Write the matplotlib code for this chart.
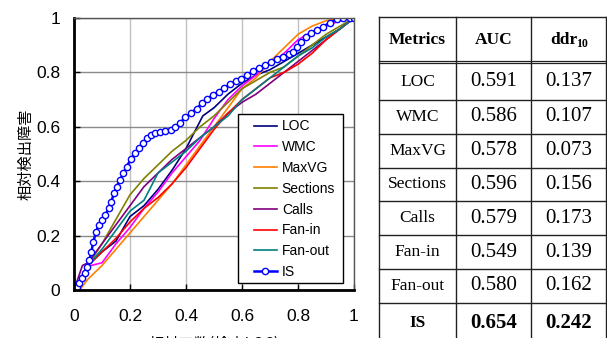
import matplotlib
matplotlib.use("Agg")
import matplotlib.pyplot as plt
from matplotlib.patches import Rectangle

# ---------------- data ----------------
loc_x = [0, 0.05, 0.1, 0.15, 0.2, 0.25, 0.3, 0.35, 0.4, 0.43, 0.46, 0.5, 0.55, 0.6, 0.65, 0.7, 0.75, 0.8, 0.85, 0.9, 0.95, 1]
loc_y = [0, 0.09, 0.14, 0.18, 0.27, 0.31, 0.37, 0.44, 0.52, 0.58, 0.64, 0.67, 0.72, 0.76, 0.79, 0.81, 0.84, 0.87, 0.9, 0.93, 0.96, 1]

wmc_x = [0, 0.03, 0.06, 0.1, 0.15, 0.2, 0.25, 0.3, 0.35, 0.4, 0.45, 0.5, 0.55, 0.6, 0.65, 0.7, 0.75, 0.8, 0.85, 0.9, 0.95, 1]
wmc_y = [0, 0.05, 0.09, 0.1, 0.17, 0.23, 0.3, 0.36, 0.43, 0.49, 0.55, 0.63, 0.7, 0.75, 0.79, 0.83, 0.87, 0.92, 0.95, 0.97, 0.99, 1]

maxvg_x = [0.02, 0.05, 0.1, 0.15, 0.2, 0.25, 0.3, 0.35, 0.4, 0.45, 0.5, 0.55, 0.6, 0.65, 0.7, 0.75, 0.8, 0.85, 0.9, 0.95, 1]
maxvg_y = [0, 0.04, 0.09, 0.15, 0.21, 0.27, 0.33, 0.39, 0.46, 0.53, 0.6, 0.67, 0.74, 0.78, 0.84, 0.89, 0.94, 0.97, 0.99, 1.0, 1]

sect_x = [0, 0.05, 0.1, 0.15, 0.2, 0.25, 0.3, 0.35, 0.4, 0.45, 0.5, 0.55, 0.6, 0.65, 0.7, 0.75, 0.8, 0.85, 0.9, 0.95, 1]
sect_y = [0, 0.09, 0.17, 0.26, 0.35, 0.41, 0.46, 0.51, 0.55, 0.6, 0.64, 0.69, 0.74, 0.77, 0.8, 0.82, 0.86, 0.9, 0.94, 0.97, 1]

calls_x = [0, 0.03, 0.05, 0.1, 0.15, 0.2, 0.25, 0.3, 0.35, 0.4, 0.45, 0.5, 0.55, 0.6, 0.65, 0.7, 0.75, 0.8, 0.85, 0.9, 0.95, 1]
calls_y = [0, 0.09, 0.1, 0.17, 0.24, 0.31, 0.38, 0.43, 0.48, 0.52, 0.56, 0.6, 0.65, 0.69, 0.72, 0.76, 0.8, 0.84, 0.88, 0.92, 0.96, 1]

fanin_x = [0, 0.05, 0.1, 0.15, 0.2, 0.25, 0.3, 0.35, 0.4, 0.45, 0.5, 0.55, 0.6, 0.65, 0.7, 0.75, 0.8, 0.85, 0.9, 0.95, 1]
fanin_y = [0, 0.09, 0.14, 0.19, 0.25, 0.3, 0.34, 0.39, 0.45, 0.52, 0.59, 0.65, 0.7, 0.74, 0.78, 0.8, 0.83, 0.87, 0.92, 0.96, 1]

fanout_x = [0, 0.05, 0.1, 0.15, 0.2, 0.25, 0.3, 0.35, 0.4, 0.45, 0.5, 0.55, 0.6, 0.65, 0.7, 0.75, 0.8, 0.85, 0.9, 0.95, 1]
fanout_y = [0, 0.09, 0.15, 0.22, 0.29, 0.33, 0.43, 0.47, 0.51, 0.56, 0.6, 0.64, 0.7, 0.74, 0.78, 0.82, 0.86, 0.89, 0.93, 0.96, 1]

is_x = [0, 0.01, 0.019, 0.029, 0.038, 0.048, 0.055, 0.062, 0.069, 0.079, 0.088, 0.1, 0.112, 0.124,
        0.133, 0.143, 0.152, 0.164, 0.176, 0.188, 0.202, 0.217, 0.231, 0.245, 0.26, 0.274, 0.29,
        0.307, 0.326, 0.345, 0.362, 0.379, 0.398, 0.417, 0.438, 0.457, 0.476, 0.498, 0.517, 0.536,
        0.557, 0.579, 0.598, 0.619, 0.64, 0.662, 0.683, 0.705, 0.726, 0.748, 0.767, 0.783, 0.798,
        0.812, 0.829, 0.848, 0.869, 0.89, 0.914, 0.938, 0.962, 0.986, 1.0]
is_y = [0, 0.01, 0.025, 0.043, 0.061, 0.086, 0.11, 0.14, 0.178, 0.214, 0.239, 0.257, 0.276, 0.3,
        0.325, 0.355, 0.38, 0.404, 0.429, 0.453, 0.48, 0.502, 0.521, 0.539, 0.558, 0.57, 0.578,
        0.582, 0.586, 0.59, 0.598, 0.615, 0.635, 0.65, 0.667, 0.686, 0.703, 0.718, 0.729, 0.743,
        0.757, 0.767, 0.777, 0.79, 0.805, 0.817, 0.827, 0.838, 0.848, 0.858, 0.868, 0.876, 0.895,
        0.913, 0.929, 0.944, 0.956, 0.968, 0.983, 0.995, 1.0, 1.0, 1.0]

metrics = ["LOC", "WMC", "MaxVG", "Sections", "Calls", "Fan-in", "Fan-out", "IS"]
auc = ["0.591", "0.586", "0.578", "0.596", "0.579", "0.549", "0.580", "0.654"]
ddr10 = ["0.137", "0.107", "0.073", "0.156", "0.173", "0.139", "0.162", "0.242"]

xticks = [0, 0.2, 0.4, 0.6, 0.8, 1]
xticklabels = ["0", "0.2", "0.4", "0.6", "0.8", "1"]
yticks = [0, 0.2, 0.4, 0.6, 0.8, 1]
yticklabels = ["0", "0.2", "0.4", "0.6", "0.8", "1"]

# ---------------- figure ----------------
plt.rcParams["font.family"] = ["Liberation Sans", "DejaVu Sans"]
W, H = 607, 338
fig = plt.figure(figsize=(W / 100, H / 100), dpi=100)
fig.patch.set_facecolor("white")

ax = fig.add_axes([74 / W, (H - 290) / H, 280 / W, 272 / H])
ax.set_xlim(0, 1)
ax.set_ylim(0, 1)
ax.xaxis.grid(True, color="#c0c0c0", linewidth=1.0)
ax.yaxis.grid(True, color="#8a8a8a", linewidth=1.0)
ax.set_axisbelow(True)

lw = 1.2
ax.plot(loc_x, loc_y, color="#000080", lw=lw, label="LOC")
ax.plot(wmc_x, wmc_y, color="#ff00ff", lw=lw, label="WMC")
ax.plot(maxvg_x, maxvg_y, color="#ff8000", lw=lw, label="MaxVG")
ax.plot(sect_x, sect_y, color="#808000", lw=lw, label="Sections")
ax.plot(calls_x, calls_y, color="#800080", lw=lw, label="Calls")
ax.plot(fanin_x, fanin_y, color="#ff0000", lw=lw, label="Fan-in")
ax.plot(fanout_x, fanout_y, color="#008080", lw=lw, label="Fan-out")
ax.plot(is_x, is_y, color="#0000ff", lw=1.8, marker="o", markersize=4.5,
        markerfacecolor="white", markeredgecolor="#0000ff", markeredgewidth=1.0, label="IS")

ax.set_xticks(xticks)
ax.set_xticklabels(xticklabels)
ax.set_yticks(yticks)
ax.set_yticklabels(yticklabels)
ax.tick_params(direction="in", length=4, width=1, labelsize=12.5)
ax.tick_params(axis="y", pad=10)
ax.tick_params(axis="x", pad=14)
for s in ["left", "bottom"]:
    ax.spines[s].set_linewidth(2.0)
    ax.spines[s].set_color("black")
for s in ["top", "right"]:
    ax.spines[s].set_linewidth(1.0)
    ax.spines[s].set_color("#555555")

cjk = ["Noto Sans CJK JP", "DejaVu Sans"]
ax.set_ylabel("相対検出障害", fontsize=11, family=cjk, labelpad=1)
ax.set_xlabel("相対工数(検査LOC)", fontsize=11, family=cjk, labelpad=8)

# legend frame drawn separately (wider left padding than top padding)
frame = Rectangle((0.586, 0.026), 0.961 - 0.586, 0.647 - 0.026, transform=ax.transAxes,
                  facecolor="white", edgecolor="black", linewidth=1.0, zorder=4.5)
ax.add_patch(frame)
leg = ax.legend(loc="upper left", bbox_to_anchor=(0.643, 0.627), fontsize=10,
                frameon=False, handlelength=1.65, labelspacing=0.49, borderpad=0,
                handletextpad=0.35, borderaxespad=0)
leg.set_zorder(5)

# ---------------- table ----------------
tx = fig.add_axes([0, 0, 1, 1])
tx.set_xlim(0, W)
tx.set_ylim(H, 0)
tx.axis("off")
tx.patch.set_alpha(0)

cols = [379, 456, 531, 606]
top = 17
hdr_a, hdr_b = 60.5, 63
first_line = 100
row_h = 33.8
n = len(metrics)
bottom = H + 5
lc = "#222222"
for c in cols:
    tx.plot([c, c], [top, bottom], color=lc, lw=1.0, clip_on=False)
tx.plot([cols[0], cols[-1]], [top, top], color=lc, lw=1.0)
tx.plot([cols[0], cols[-1]], [hdr_a, hdr_a], color=lc, lw=0.9)
tx.plot([cols[0], cols[-1]], [hdr_b, hdr_b], color=lc, lw=0.9)
row_lines = [hdr_b] + [first_line + i * row_h for i in range(n - 1)]
row_lines.append(row_lines[-1] + 40)
for y in row_lines[1:-1]:
    tx.plot([cols[0], cols[-1]], [y, y], color=lc, lw=1.0)

serif = "Liberation Serif"
cx = [(cols[0] + cols[1]) / 2, (cols[1] + cols[2]) / 2, (cols[2] + cols[3]) / 2]
hy = (top + hdr_a) / 2 + 1
tx.text(cx[0], hy, "Metrics", ha="center", va="center", family=serif, fontsize=12.5, weight="bold")
tx.text(cx[1], hy, "AUC", ha="center", va="center", family=serif, fontsize=12.5, weight="bold")
tx.text(cx[2] - 18, hy, "ddr", ha="left", va="center", family=serif, fontsize=12.5, weight="bold")
tx.text(cx[2] + 8, hy + 4, "10", ha="left", va="center", family=serif, fontsize=8.5, weight="bold")

for i in range(n):
    y = (row_lines[i] + row_lines[i + 1]) / 2
    bold = "bold" if metrics[i] == "IS" else "normal"
    tx.text(cx[0], y, metrics[i], ha="center", va="center", family=serif, fontsize=12.5, weight=bold)
    tx.text(cx[1], y, auc[i], ha="center", va="center", family=serif, fontsize=15, weight=bold)
    tx.text(cx[2], y, ddr10[i], ha="center", va="center", family=serif, fontsize=15, weight=bold)

fig.savefig("out.png", dpi=100)
